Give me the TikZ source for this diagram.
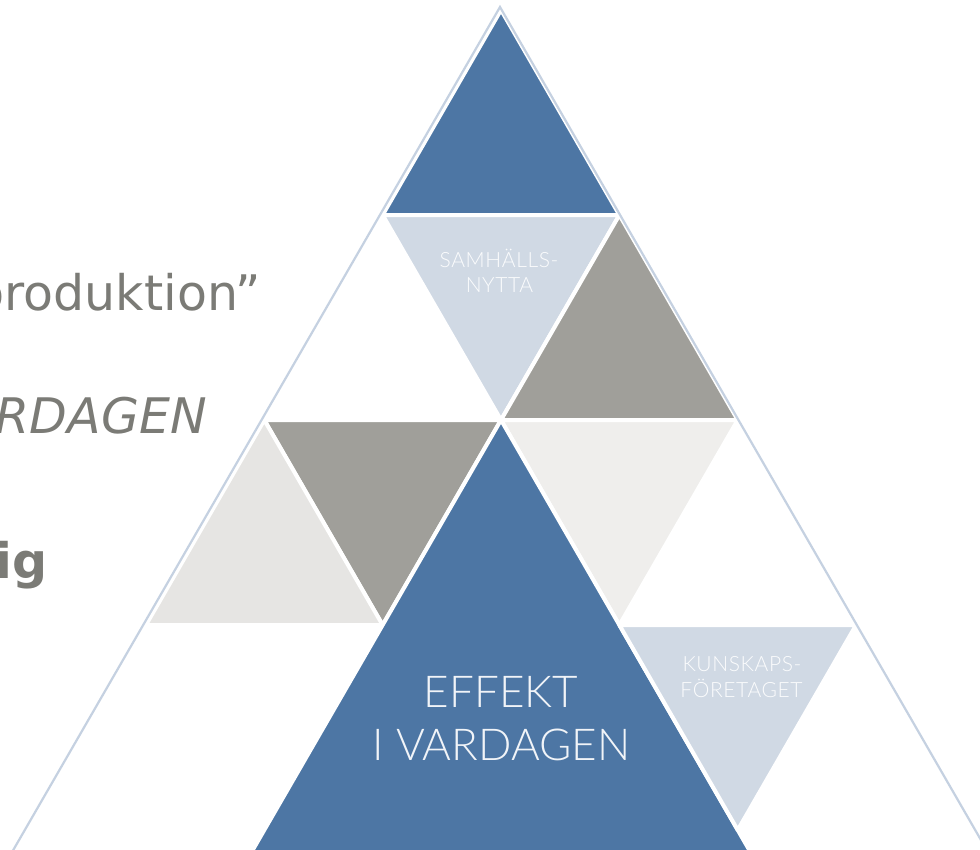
\documentclass[tikz,border=0pt]{standalone}
\usepackage{fontspec}
\setmainfont{DejaVu Sans}
\newfontfamily\lightfont{Lato Light}
\definecolor{pblue}{HTML}{4D76A4}
\definecolor{pbluel}{HTML}{D0D9E4}
\definecolor{pgray}{HTML}{A09F9A}
\definecolor{plgrayA}{HTML}{E6E5E3}
\definecolor{plgrayB}{HTML}{EFEEEC}
\definecolor{pline}{HTML}{C5D1E1}
\definecolor{ptext}{HTML}{7B7B76}
\tikzset{
  tri/.style={draw=white, line width=4pt, line join=round},
  outerline/.style={draw=pline, line width=2.2pt},
  lefttext/.style={text=ptext, inner sep=0pt, anchor=base east, font=\fontsize{49}{58}\selectfont},
  smalllabel/.style={text=white!92!pbluel, inner sep=0pt, anchor=base, font=\lightfont\fontsize{21}{25}\selectfont\addfontfeature{LetterSpace=3}},
  biglabel/.style={text=white!92!pblue, inner sep=0pt, anchor=base, font=\lightfont\fontsize{44}{53}\selectfont},
}
\begin{document}
\begin{tikzpicture}[x=1pt,y=-1pt]
\useasboundingbox (0,0) rectangle (980,849);
\clip (0,0) rectangle (980,849);
\fill[white] (0,0) rectangle (980,849);
% lattice points
\coordinate (L00) at (501,10);
\coordinate (L10) at (382.64,215);
\coordinate (L11) at (619.36,215);
\coordinate (L20) at (264.28,420);
\coordinate (L21) at (501,420);
\coordinate (L22) at (737.72,420);
\coordinate (L30) at (145.92,625);
\coordinate (L31) at (382.64,625);
\coordinate (L32) at (619.36,625);
\coordinate (L33) at (856.08,625);
\coordinate (L43) at (737.72,830);
\coordinate (L51) at (145.92,1035);
\coordinate (L54) at (856.08,1035);
% triangles
\path[tri, fill=pblue] (L00) -- (L10) -- (L11) -- cycle;
\path[tri, fill=pbluel] (L10) -- (L11) -- (L21) -- cycle;
\path[tri, fill=pgray] (L11) -- (L21) -- (L22) -- cycle;
\path[tri, fill=pgray] (L20) -- (L21) -- (L31) -- cycle;
\path[tri, fill=plgrayA] (L20) -- (L30) -- (L31) -- cycle;
\path[tri, fill=plgrayB] (L21) -- (L22) -- (L32) -- cycle;
\path[tri, fill=pblue] (L21) -- (L51) -- (L54) -- cycle;
\path[tri, fill=pbluel] (L32) -- (L33) -- (L43) -- cycle;
% outer outline
\coordinate (apex) at (500,7);
\coordinate (bl) at (-10,890.3);
\coordinate (br) at (1010,890.3);
\draw[outerline] (bl) -- (apex) -- (br);
% left texts
\node[lefttext] (t1) at (261,310) {produktion”};
\node[lefttext, font=\fontsize{49}{58}\selectfont\itshape] (t2) at (207,433) {RDAGEN};
\node[lefttext, font=\fontsize{49}{58}\selectfont\bfseries] (t3) at (48,578) {ig};
% labels
\node[smalllabel] (s1) at (499,267) {SAMHÄLLS-};
\node[smalllabel] (s2) at (499.5,292) {NYTTA};
\node[biglabel] (e1) at (501,707) {EFFEKT};
\node[biglabel] (e2) at (501.5,760) {I VARDAGEN};
\node[smalllabel] (k1) at (742,671) {KUNSKAPS-};
\node[smalllabel] (k2) at (741.5,697) {FÖRETAGET};
\end{tikzpicture}
\end{document}
